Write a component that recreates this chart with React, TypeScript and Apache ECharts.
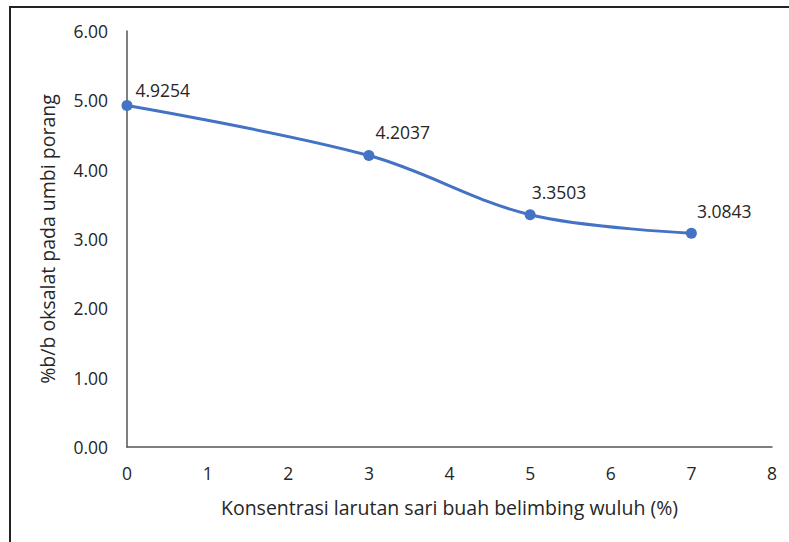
import React, { useEffect, useRef } from "react";
import * as echarts from "echarts";

const xValues = [0, 3, 5, 7];
const yValues = [4.9254, 4.2037, 3.3503, 3.0843];
const labelTexts = ["4.9254", "4.2037", "3.3503", "3.0843"];
const xTitle = "Konsentrasi larutan sari buah belimbing wuluh (%)";
const yTitle = "%b/b oksalat pada umbi porang";

const labelPos: [number, number][] = [
  [14, -19],
  [12, -27],
  [7, -26],
  [11, -26],
];

const FONT = "Open Sans";

export default function App() {
  const ref = useRef<HTMLDivElement>(null);
  useEffect(() => {
    document.body.style.margin = "0";
    const chart = echarts.init(ref.current!, null, { renderer: "svg" });
    chart.setOption({
      animation: false,
      textStyle: { fontFamily: FONT },
      graphic: [
        {
          type: "rect",
          shape: { x: 10, y: 7, width: 900, height: 700 },
          style: { fill: "none", stroke: "#222", lineWidth: 2 },
        },
      ],
      grid: { left: 127, right: 17, top: 31, bottom: 95 },
      xAxis: {
        type: "value",
        min: 0,
        max: 8,
        interval: 1,
        name: xTitle,
        nameLocation: "middle",
        nameGap: 50,
        nameTextStyle: { fontSize: 19.5, color: "#262626", fontFamily: FONT },
        axisLine: { lineStyle: { color: "#555", width: 1.5 } },
        axisTick: { show: false },
        splitLine: { show: false },
        axisLabel: { fontSize: 17.5, color: "#262626", margin: 17, fontFamily: FONT },
      },
      yAxis: {
        type: "value",
        min: 0,
        max: 6,
        interval: 1,
        name: yTitle,
        nameLocation: "middle",
        nameGap: 70,
        nameTextStyle: { fontSize: 19.5, color: "#262626", fontFamily: FONT },
        axisLine: { show: true, lineStyle: { color: "#555", width: 1.5 } },
        axisTick: { show: false },
        splitLine: { show: false },
        axisLabel: {
          fontSize: 17.5,
          color: "#262626",
          margin: 19,
          fontFamily: FONT,
          formatter: (v: number) => v.toFixed(2),
        },
      },
      series: [
        {
          type: "line",
          smooth: 0.35,
          symbol: "circle",
          symbolSize: 11,
          lineStyle: { color: "#4472C4", width: 3 },
          itemStyle: { color: "#4472C4" },
          data: xValues.map((x, i) => ({
            value: [x, yValues[i]],
            label: {
              show: true,
              position: labelPos[i],
              formatter: labelTexts[i],
              fontSize: 17.5,
              color: "#262626",
              fontFamily: FONT,
            },
          })),
        },
      ],
    });
    return () => chart.dispose();
  }, []);
  return <div ref={ref} style={{ width: 789, height: 542 }} />;
}
